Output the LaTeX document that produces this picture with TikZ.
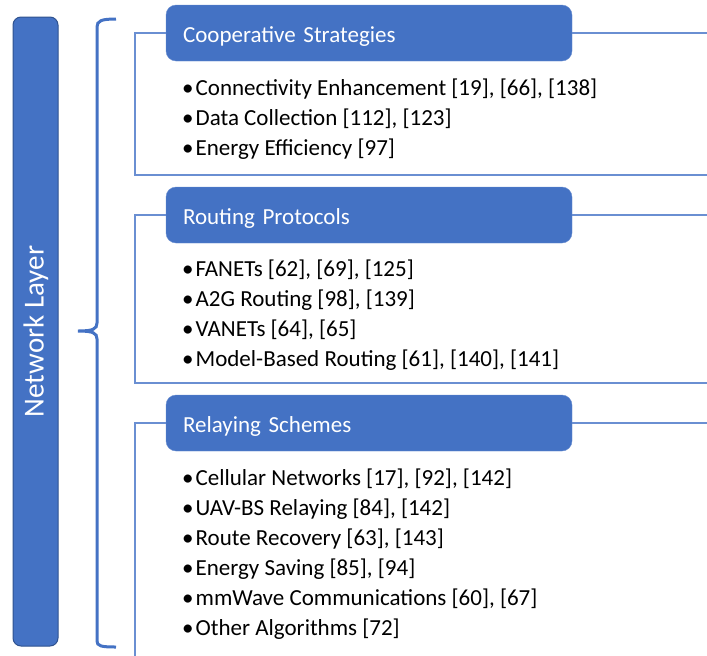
\documentclass[tikz,border=0pt]{standalone}
\usepackage{fontspec}
\setmainfont{Carlito}
\definecolor{nlblue}{HTML}{4472C4}
\definecolor{nldark}{HTML}{2F528F}
\definecolor{nlline}{HTML}{6A8FD2}

\tikzstyle{layer} = [rotate=90, fill=nlblue, draw=nldark, line width=1, rounded corners=8, minimum width=629, minimum height=45, text height=20, text depth=4, text=white, font={\fontsize{29}{33}\selectfont}]
\tikzstyle{head} = [fill=nlblue, draw=nlblue!80, rounded corners=10, minimum width=406, minimum height=56, text width=372, inner xsep=17, text height=22, text depth=4, align=left, text=white, font={\fontsize{23}{27}\selectfont}]
\tikzstyle{item} = [anchor=west, inner sep=0, text height=19, text depth=4, font={\fontsize{23}{27}\selectfont}]
\tikzstyle{frame} = [draw=nlline, line width=1.5]
\tikzstyle{brace} = [draw=nlblue, line width=3]

\begin{document}
\begin{tikzpicture}[x=1pt, y=-1pt]
\useasboundingbox (0,0) rectangle (707,656);

\node [layer] (nl) at (35.5,331.5) {Network Layer};

\node [head] (h1) at (369,33) {Cooperative Strategies};
\node [head] (h2) at (369,215) {Routing Protocols};
\node [head] (h3) at (369,423) {Relaying Schemes};

\coordinate (e1) at (707,33);
\coordinate (e2) at (707,215);
\coordinate (e3) at (707,423);
\coordinate (b1) at (707,175);
\coordinate (b2) at (707,383);
\coordinate (b3) at (135,660);

% frames round each group
\draw [frame] (h1) -- (e1);
\draw [frame] (h1.west) -- (135,33) |- (b1);
\draw [frame] (h2) -- (e2);
\draw [frame] (h2.west) -- (135,215) |- (b2);
\draw [frame] (h3) -- (e3);
\draw [frame] (h3.west) -- (135,423) -- (b3);

% brace
\draw [brace] (116,19) .. controls (101,19) and (97,21) .. (97,27) -- (97,323)
  .. controls (97,329) and (93,331) .. (78,331)
  .. controls (93,331) and (97,333) .. (97,339) -- (97,641)
  .. controls (97,646) and (101,647) .. (116,647);

\node [item] (c1) at (182,88) {•\kern2pt Connectivity Enhancement [19], [66], [138]};
\node [item] (c2) at (182,118) {•\kern2pt Data Collection [112], [123]};
\node [item] (c3) at (182,148) {•\kern2pt Energy Efficiency [97]};

\node [item] (r1) at (182,269) {•\kern2pt FANETs [62], [69], [125]};
\node [item] (r2) at (182,299) {•\kern2pt A2G Routing [98], [139]};
\node [item] (r3) at (182,329) {•\kern2pt VANETs [64], [65]};
\node [item] (r4) at (182,359) {•\kern2pt Model-Based Routing [61], [140], [141]};

\node [item] (s1) at (182,478) {•\kern2pt Cellular Networks [17], [92], [142]};
\node [item] (s2) at (182,508) {•\kern2pt UAV-BS Relaying [84], [142]};
\node [item] (s3) at (182,538) {•\kern2pt Route Recovery [63], [143]};
\node [item] (s4) at (182,568) {•\kern2pt Energy Saving [85], [94]};
\node [item] (s5) at (182,598) {•\kern2pt mmWave Communications [60], [67]};
\node [item] (s6) at (182,628) {•\kern2pt Other Algorithms [72]};
\end{tikzpicture}
\end{document}
